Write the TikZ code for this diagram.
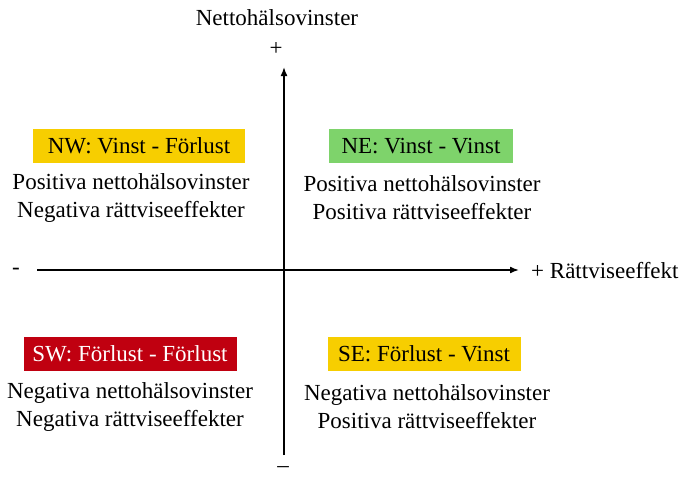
\documentclass[tikz,border=0pt]{standalone}
\usepackage{fontspec}
\setmainfont{Liberation Serif}
\usetikzlibrary{arrows.meta}
\definecolor{boxyellow}{HTML}{F7CE00}
\definecolor{boxgreen}{HTML}{7ED36B}
\definecolor{boxred}{HTML}{C00010}
\begin{document}
\begin{tikzpicture}[x=1pt,y=-1pt,
  every node/.style={font=\fontsize{23}{28}\selectfont, inner sep=0pt},
  head/.style={minimum height=34pt, text depth=0pt, anchor=center},
  desc/.style={align=center},
  axis/.style={line width=1.6pt, -{Latex[length=9pt,width=7pt]}}]
  \useasboundingbox (0,0) rectangle (682,496);

  % axes
  \coordinate (vbot) at (284,455);
  \coordinate (vtop) at (284,67);
  \coordinate (hleft) at (37,270);
  \coordinate (hright) at (519,270);
  \draw[axis] (vbot) -- (vtop);
  \draw[axis] (hleft) -- (hright);

  % axis labels
  \node (ylab) at (277,18) {Nettohälsovinster};
  \node (yplus) at (276,49) {+};
  \node (yminus) at (283,470) {–};
  \node (xminus) at (16,271) {-};
  \node[anchor=west] (xlab) at (531,271) {+ Rättviseeffekt};

  % quadrant headers
  \node[head, fill=boxyellow, minimum width=212pt] (nw) at (139,146) {NW: Vinst - Förlust};
  \node[head, fill=boxgreen, minimum width=184pt] (ne) at (421,146) {NE: Vinst - Vinst};
  \node[head, fill=boxred, text=white, minimum width=213pt] (sw) at (130,354) {SW: Förlust - Förlust};
  \node[head, fill=boxyellow, minimum width=193pt] (se) at (424,354) {SE: Förlust - Vinst};

  % quadrant descriptions
  \node[desc] (nwd) at (131,198) {Positiva nettohälsovinster\\Negativa rättviseeffekter};
  \node[desc] (ned) at (422,198) {Positiva nettohälsovinster\\Positiva rättviseeffekter};
  \node[desc] (swd) at (130,407) {Negativa nettohälsovinster\\Negativa rättviseeffekter};
  \node[desc] (sed) at (427,407) {Negativa nettohälsovinster\\Positiva rättviseeffekter};
\end{tikzpicture}
\end{document}
